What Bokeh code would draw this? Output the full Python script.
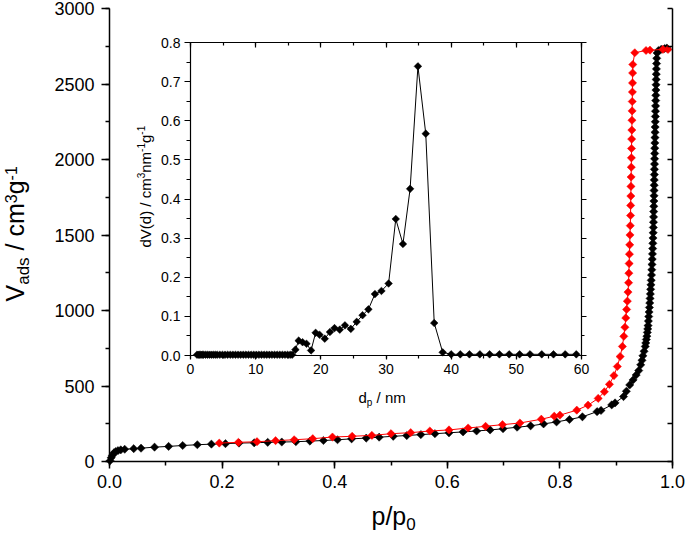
import math
from bokeh.plotting import figure
from bokeh.models import (Range1d, LinearAxis, SingleIntervalTicker, PrintfTickFormatter,
                          Label, CustomJSTickFormatter)
from bokeh.embed import file_html
from bokeh.resources import INLINE

# ---------------- data: nitrogen isotherm ----------------
ads_p = [0.001, 0.003, 0.005, 0.008, 0.011, 0.015, 0.020, 0.027, 0.043, 0.056, 0.080, 0.105,
         0.130, 0.156, 0.181, 0.206, 0.230, 0.257, 0.281, 0.306, 0.331, 0.356, 0.380, 0.405,
         0.430, 0.456, 0.479, 0.504, 0.528, 0.553, 0.578, 0.603, 0.628, 0.652, 0.676, 0.699,
         0.724, 0.748, 0.771, 0.794, 0.817, 0.840, 0.866, 0.873, 0.892, 0.898, 0.913, 0.918,
         0.924, 0.930, 0.9355, 0.940, 0.9435, 0.9458, 0.9474, 0.9495, 0.9516, 0.9525, 0.9535,
         0.9545, 0.9553, 0.9560, 0.9566, 0.9572, 0.9578, 0.9584, 0.9590, 0.9596, 0.9602,
         0.9607, 0.9612, 0.9617, 0.9622, 0.9627, 0.9632, 0.9636, 0.9640, 0.9644, 0.9648,
         0.9651, 0.9654, 0.9657, 0.9660, 0.9662, 0.9664, 0.9666, 0.9668, 0.9670, 0.9672,
         0.9673, 0.9675, 0.9676, 0.9678, 0.9679, 0.9681, 0.9682, 0.9684, 0.9685, 0.9687,
         0.9689, 0.9690, 0.9692, 0.9694, 0.9696, 0.9698, 0.9700, 0.9702, 0.9704, 0.9706,
         0.9708, 0.9710, 0.9712, 0.9714, 0.9717, 0.9720, 0.9727, 0.9750, 0.9800, 0.9860, 0.9900]
ads_v = [5, 25, 40, 58, 66, 72, 77, 81, 85, 88, 95, 100,
         106, 111, 115, 118, 122, 124, 127, 129, 131, 135, 139, 144,
         150, 155, 161, 167, 172, 178, 184, 190, 196, 202, 209, 217,
         227, 236, 249, 262, 278, 296, 330, 338, 375, 388, 430, 465,
         507, 540, 573, 602, 640, 670, 700, 730, 762, 785, 808,
         830, 855, 878, 900, 930, 960, 990, 1020, 1050, 1080,
         1110, 1140, 1170, 1200, 1235, 1270, 1305, 1340, 1375, 1410,
         1445, 1480, 1515, 1550, 1585, 1620, 1655, 1690, 1725, 1760,
         1795, 1830, 1865, 1900, 1935, 1970, 2005, 2040, 2075, 2110,
         2145, 2180, 2215, 2250, 2285, 2320, 2355, 2390, 2425, 2460,
         2495, 2530, 2565, 2600, 2635, 2670, 2705, 2722, 2730, 2735, 2738]

des_p = [0.992, 0.983, 0.960, 0.953, 0.933, 0.9295, 0.9292, 0.9290, 0.9288, 0.9285, 0.9283,
         0.9280, 0.9278, 0.9275, 0.9272, 0.9270, 0.9268, 0.9265, 0.9262, 0.9260, 0.9257,
         0.9255, 0.9250, 0.9245, 0.9240, 0.9235, 0.9230, 0.9225, 0.9220, 0.9210, 0.9198,
         0.9185, 0.9170, 0.9155, 0.9135, 0.9110, 0.9070, 0.9020, 0.8960, 0.8880, 0.8790,
         0.8680, 0.850, 0.830, 0.800, 0.790, 0.767, 0.729, 0.698, 0.668, 0.637, 0.603,
         0.569, 0.535, 0.500, 0.466, 0.431, 0.396, 0.361, 0.328, 0.295, 0.262, 0.229, 0.195]
des_v = [2729, 2729, 2724, 2722, 2707, 2629, 2573, 2507, 2447, 2384, 2322,
         2260, 2195, 2135, 2073, 2011, 1949, 1884, 1822, 1758, 1696,
         1629, 1562, 1500, 1435, 1373, 1311, 1247, 1184, 1122, 1062,
         1007, 951, 889, 829, 762, 695, 629, 569, 511, 462,
         418, 373, 340, 307, 300, 280, 255, 244, 233, 222, 209,
         202, 191, 184, 173, 167, 162, 151, 144, 138, 131, 127, 122]

# ---------------- data: pore size distribution (inset) ----------------
psd_d = [1.0, 1.2, 1.4, 1.6, 1.8, 2.0, 2.3, 2.6, 2.9, 3.2, 3.5, 3.8, 4.1, 4.5, 4.9, 5.3,
         5.7, 6.1, 6.5, 6.9, 7.3, 7.7, 8.1, 8.5, 8.9, 9.3, 9.7, 10.1, 10.5, 10.9, 11.3,
         11.7, 12.1, 12.5, 12.9, 13.3, 13.7, 14.1, 14.5, 14.9, 15.3, 15.6,
         16.1, 16.6, 17.2, 17.8, 18.5, 19.2, 19.8, 20.6, 21.4, 22.1, 22.9, 23.7, 24.6,
         25.5, 26.4, 27.3, 28.3, 29.3, 30.4, 31.5, 32.6, 33.7, 34.9, 36.1, 37.4, 38.7,
         40.0, 41.4, 42.8, 44.4, 45.9, 47.4, 48.9, 50.5, 52.1, 53.9, 55.7, 57.5, 59.2]
psd_v = [0.002] * 42 + [
         0.015, 0.038, 0.034, 0.030, 0.013, 0.058, 0.053, 0.043, 0.060, 0.070, 0.066, 0.077, 0.068,
         0.086, 0.103, 0.118, 0.157, 0.165, 0.184, 0.349, 0.285, 0.426, 0.739, 0.567, 0.083, 0.008,
         0.003, 0.003, 0.003, 0.003, 0.003, 0.003, 0.003, 0.003, 0.003, 0.003, 0.003, 0.003, 0.003]

# axis extents
main_x = (0.0, 1.0)
main_y = (0, 3000)
inset_x = (0, 60)
inset_y = (0.0, 0.8)

# ---------------- layout geometry (page px) ----------------
W, H = 685, 534
FL, FR, FT, FB = 109, 672, 8, 461           # main plot box
IL, IR, IT, IB = 190, 581, 42, 355          # inset box
FONT = "Liberation Sans"

# the frame spans the whole canvas; axes are pinned with fixed_location
xpp = (main_x[1] - main_x[0]) / (FR - FL)
ypp = (main_y[1] - main_y[0]) / (FB - FT)
p = figure(width=W, height=H, output_backend="svg", toolbar_location=None,
           x_axis_location=None, y_axis_location=None,
           x_range=Range1d(main_x[0] - FL * xpp, main_x[1] + (W - FR) * xpp),
           y_range=Range1d(main_y[0] - (H - FB) * ypp, main_y[1] + FT * ypp))
p.min_border = 0
p.min_border_left = p.min_border_right = p.min_border_top = p.min_border_bottom = 0
p.outline_line_color = None
p.grid.visible = False
p.background_fill_color = "white"
p.border_fill_color = "white"

dxpp = (inset_x[1] - inset_x[0]) / (IR - IL)
dypp = (inset_y[1] - inset_y[0]) / (IB - IT)
p.extra_x_ranges = {"dx": Range1d(inset_x[0] - IL * dxpp, inset_x[1] + (W - IR) * dxpp)}
p.extra_y_ranges = {"dy": Range1d(inset_y[0] - (H - IB) * dypp, inset_y[1] + IT * dypp)}

blank = CustomJSTickFormatter(code="return ''")

def make_axis(side, loc, bounds, interval, fmt, size, lw, t_in, t_out, m_in, m_out,
              standoff=0, rng=None):
    kw = {}
    if rng:
        kw = dict(x_range_name="dx", y_range_name="dy")
    ax = LinearAxis(fixed_location=loc, bounds=bounds,
                    ticker=SingleIntervalTicker(interval=interval, num_minor_ticks=2),
                    formatter=fmt, **kw)
    ax.axis_line_width = lw
    ax.major_tick_line_width = lw
    ax.minor_tick_line_width = lw
    ax.axis_line_color = ax.major_tick_line_color = ax.minor_tick_line_color = "black"
    ax.major_tick_in, ax.major_tick_out = int(t_in), int(t_out)
    ax.minor_tick_in, ax.minor_tick_out = int(m_in), int(m_out)
    ax.major_label_text_font = FONT
    ax.major_label_text_font_size = size
    ax.major_label_text_color = "black"
    ax.major_label_standoff = int(standoff)
    p.add_layout(ax, side)
    return ax

# main axes
make_axis("below", main_y[0], main_x, 0.2, PrintfTickFormatter(format="%.1f"), "18px",
          1.5, 0, 7, 0, 4, standoff=6)
make_axis("left", main_x[0], main_y, 500, PrintfTickFormatter(format="%d"), "18px",
          1.5, 0, 8, 0, 4, standoff=7)
make_axis("right", main_x[1], main_y, 250, blank, "10px", 1.5, 5, 0, 0, 0)

# inset axes
make_axis("below", inset_y[0], inset_x, 10, PrintfTickFormatter(format="%d"), "14px",
          1.2, 0, 4, 0, 3, standoff=4, rng=True)
make_axis("above", inset_y[1], inset_x, 10, blank, "10px", 1.2, 5, 0, 3, 0, rng=True)
make_axis("left", inset_x[0], inset_y, 0.1, PrintfTickFormatter(format="%.1f"), "14px",
          1.2, 0, 6, 0, 4, standoff=4, rng=True)
make_axis("right", inset_x[1], inset_y, 0.1, blank, "10px", 1.2, 0, 5, 0, 3, rng=True)

# ---------------- main curves ----------------
p.line(ads_p, ads_v, line_color="black", line_width=1)
p.scatter(ads_p, ads_v, marker="square", angle=math.pi / 4, size=5.8,
          fill_color="black", line_color="black", line_width=0.5)
p.line(des_p, des_v, line_color="red", line_width=1)
p.scatter(des_p, des_v, marker="square", angle=math.pi / 4, size=5.8,
          fill_color="red", line_color="red", line_width=0.5)

# ---------------- inset curve ----------------
p.line(psd_d, psd_v, line_color="black", line_width=1, x_range_name="dx", y_range_name="dy")
p.scatter(psd_d, psd_v, marker="square", angle=math.pi / 4, size=5.4,
          fill_color="black", line_color="black", line_width=0.5,
          x_range_name="dx", y_range_name="dy")

# ---------------- rich-text titles built from runs ----------------
CW = {'V': .667, 'a': .556, 'd': .556, 's': .5, ' ': .278, '/': .278, 'c': .5, 'm': .833,
      '3': .556, 'g': .556, '-': .333, '1': .556, 'p': .556, 'n': .556, '(': .333,
      ')': .333, '0': .556}
BASE_FIX = 0.33   # renderer places the alphabetic baseline ~0.33 em low; compensate

def tw(t, fs):
    return sum(CW.get(ch, .556) for ch in t) * fs

def runs(parts, sx, sy, vertical):
    """parts: (text, font_px, baseline_shift_px). sx, sy: page px of start/baseline."""
    pos = 0.0
    for text, fs, shift in parts:
        lead = len(text) - len(text.lstrip(" "))
        t = text.strip(" ")
        off = pos + tw(" " * lead, fs)
        s = shift - BASE_FIX * fs
        if vertical:
            x, y, ang = sx + s, (H - sy) + off, math.pi / 2
        else:
            x, y, ang = sx + off, H - (sy + s), 0
        p.add_layout(Label(x=x, y=y, x_units="screen", y_units="screen", text=t,
                           angle=ang, text_font=FONT, text_font_size=f"{fs}px",
                           text_color="black", text_align="left",
                           text_baseline="alphabetic"))
        pos += tw(text, fs)

# main y title: V_ads / cm^3 g^-1
runs([("V", 25, 0), ("ads", 17, 6), (" / cm", 25, 0), ("3", 16, -7), ("g", 25, 0),
      ("-1", 16, -7)], 22.5, 301, True)
# main x title: p/p_0
runs([("p/p", 25, 0), ("0", 17, 5)], 371, 524, False)
# inset y title
runs([("dV(d) / cm", 15, 0), ("3", 10, -6), ("nm", 15, 0), ("-1", 10, -6), ("g", 15, 0),
      ("-1", 10, -6)], 150, 247, True)
# inset x title
runs([("d", 15, 0), ("p", 10, 3), (" / nm", 15, 0)], 358, 402, False)

open("out.html", "w").write(file_html(p, INLINE))
